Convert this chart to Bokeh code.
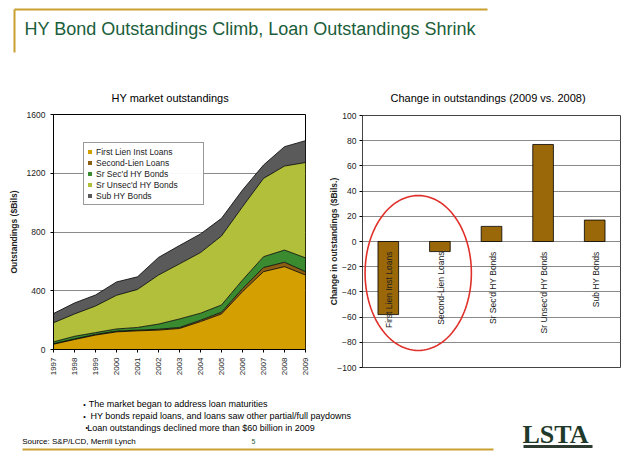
import numpy as np
from bokeh.plotting import figure
from bokeh.models import ColumnDataSource, Range1d, FixedTicker, Legend, LegendItem, Label
from bokeh.layouts import column, row
from bokeh.embed import file_html
from bokeh.resources import INLINE
from bokeh.core.properties import value

# ---------------- data ----------------
years = [1997, 1998, 1999, 2000, 2001, 2002, 2003, 2004, 2005, 2006, 2007, 2008, 2009]
first_lien = [36, 68, 98, 120, 127, 132, 143, 190, 242, 394, 530, 564, 507]
second_lien = [3, 4, 5, 5, 5, 6, 7, 9, 12, 20, 28, 30, 23]
sr_secd = [13, 18, 12, 15, 18, 35, 58, 48, 49, 59, 74, 83, 94]
sr_unsecd = [130, 152, 181, 229, 259, 334, 375, 413, 470, 499, 533, 572, 649]
sub_hy = [63, 75, 75, 91, 86, 120, 125, 127, 120, 114, 91, 132, 149]
series_names = ["First Lien Inst Loans", "Second-Lien Loans", "Sr Sec'd HY Bonds",
                "Sr Unsec'd HY Bonds", "Sub HY Bonds"]
y_ticks_left = [0, 400, 800, 1200, 1600]

change_categories = ["First Lien Inst Loans", "Second-Lien Loans", "Sr Sec'd HY Bonds",
                     "Sr Unsec'd HY Bonds", "Sub HY Bonds"]
change_values = [-58, -8, 12, 77, 17]
y_ticks_right = [-100, -80, -60, -40, -20, 0, 20, 40, 60, 80, 100]

title_text = "HY Bond Outstandings Climb, Loan Outstandings Shrink"
bullets = ["The market began to address loan maturities",
           "HY bonds repaid loans, and loans saw other partial/full paydowns",
           "Loan outstandings declined more than $60 billion in 2009"]
source_text = "Source: S&P/LCD, Merrill Lynch"
page_number = "5"

# ---------------- style ----------------
SANS = "Liberation Sans"
GOLD = "#C9A030"
GREEN = "#1B5E3B"
AREA_COLORS = ["#D49F00", "#8C5E14", "#3A8A30", "#B2BF3A", "#5A5A5A"]
BAR_COLOR = "#9A6808"
GRID = "#8A8A8A"
TXT = "#222222"


def canvas(w, h):
    f = figure(width=w, height=h, x_range=Range1d(0, w), y_range=Range1d(h, 0),
               x_axis_type=None, y_axis_type=None, output_backend="svg",
               toolbar_location=None, min_border=0)
    f.outline_line_color = None
    f.background_fill_color = "white"
    f.border_fill_color = "white"
    return f


# ---------------- header ----------------
header = canvas(637, 78)
header.segment(x0=[14, 14], y0=[9, 9], x1=[487, 14], y1=[9, 52], line_color=GOLD, line_width=2)
header.add_layout(Label(x=24, y=28.7, text=title_text, text_font=SANS, text_font_size="18px",
                        text_color=GREEN, text_baseline="middle"))

# ---------------- left chart ----------------
left = figure(width=322, height=307, x_range=Range1d(years[0], years[-1]), y_range=Range1d(0, 1600),
              output_backend="svg", toolbar_location=None, frame_align=False,
              min_border_left=53, min_border_right=17, min_border_top=36, min_border_bottom=36,
              title="HY market outstandings")
left.title.text_font = SANS
left.title.text_font_size = "11px"
left.title.text_font_style = "normal"
left.title.align = "left"
left.title.offset = 58
left.title.standoff = 21
left.title.text_color = "black"

src = ColumnDataSource(dict(year=years, fl=first_lien, sl=second_lien, ss=sr_secd,
                            su=sr_unsecd, sub=sub_hy))
keys = ["fl", "sl", "ss", "su", "sub"]
areas = left.varea_stack(keys, x="year", color=AREA_COLORS, source=src)
left.vline_stack(keys, x="year", source=src, color="black", line_width=0.8)

legend = Legend(items=[LegendItem(label=n, renderers=[r]) for n, r in zip(series_names, areas)],
                location=(30, 144), padding=3, spacing=0, label_height=11, glyph_width=5,
                glyph_height=5, label_standoff=4, label_width=104, label_text_font=SANS,
                label_text_font_size="8.5px", label_text_color=TXT,
                border_line_color="#333333", border_line_width=0.8, margin=0)
left.add_layout(legend)

left.yaxis.ticker = FixedTicker(ticks=y_ticks_left)
left.xaxis.ticker = FixedTicker(ticks=years)
left.ygrid.ticker = FixedTicker(ticks=y_ticks_left)
left.xaxis.major_label_orientation = np.pi / 2
left.xgrid.visible = False
left.ygrid.grid_line_color = GRID
left.yaxis.axis_label = "Outstandings ($Bils)"
left.yaxis.axis_label_text_font = SANS
left.yaxis.axis_label_text_font_size = "8.5px"
left.yaxis.axis_label_text_font_style = "bold"
left.yaxis.axis_label_text_color = TXT
left.yaxis.axis_label_standoff = 5
left.axis.major_label_text_font = SANS
left.yaxis.major_label_text_font_size = "8.5px"
left.xaxis.major_label_text_font_size = "8px"
left.axis.major_label_text_color = TXT
left.axis.minor_tick_line_color = None
left.axis.major_tick_in = 0
left.axis.major_tick_out = 3
left.axis.major_label_standoff = 5
left.axis.axis_line_color = "black"
left.outline_line_color = "black"

# ---------------- right chart ----------------
pos = np.arange(len(change_categories)) + 0.5
right = figure(width=315, height=307, x_range=Range1d(0, len(change_categories)),
               y_range=Range1d(y_ticks_right[0], y_ticks_right[-1]),
               output_backend="svg", toolbar_location=None, frame_align=False,
               min_border_left=40, min_border_right=17, min_border_top=37, min_border_bottom=18,
               title="Change in outstandings (2009 vs. 2008)")
right.title.text_font = SANS
right.title.text_font_size = "11px"
right.title.text_font_style = "normal"
right.title.align = "left"
right.title.offset = 28
right.title.standoff = 23
right.title.text_color = "black"

rsrc = ColumnDataSource(dict(x=pos, top=change_values, cat=change_categories,
                             base=np.zeros(len(pos))))
right.vbar(x="x", top="top", width=0.4, source=rsrc, fill_color=BAR_COLOR, line_color="black",
           line_width=0.8)
right.text(x="x", y="base", text="cat", source=rsrc, angle=np.pi / 2, text_align="right",
           text_baseline="middle", y_offset=10, x_offset=1, text_font=value(SANS),
           text_font_size="8.5px", text_color=TXT)

# highlight (hand-drawn style oval) around the two loan categories
hl_cx = pos[:2].mean() + 0.08
hl_cy = -25
hl_rx, hl_ry = 1.03, 61.5
t = np.linspace(0, 2 * np.pi, 121)
right.line(x=hl_cx + hl_rx * np.cos(t), y=hl_cy + hl_ry * np.sin(t),
           line_color="#E0302A", line_width=1.6)

right.xaxis.visible = False
right.xgrid.visible = False
right.yaxis.ticker = FixedTicker(ticks=y_ticks_right)
right.ygrid.ticker = FixedTicker(ticks=y_ticks_right)
right.ygrid.grid_line_color = GRID
right.yaxis.axis_label = "Change in outstandings ($Bils.)"
right.yaxis.axis_label_text_font = SANS
right.yaxis.axis_label_text_font_size = "8.5px"
right.yaxis.axis_label_text_font_style = "bold"
right.yaxis.axis_label_text_color = TXT
right.yaxis.axis_label_standoff = -5
right.yaxis.major_label_text_font = SANS
right.yaxis.major_label_text_font_size = "8.5px"
right.yaxis.major_label_text_color = TXT
right.yaxis.minor_tick_line_color = None
right.yaxis.major_tick_in = 0
right.yaxis.major_tick_out = 3
right.yaxis.major_label_standoff = 3
right.yaxis.axis_line_color = "#444444"
right.outline_line_color = "#444444"

# ---------------- footer ----------------
footer = canvas(637, 81)
bullet_x = [82.7, 82.7, 85]
text_x = [88.3, 90, 86.7]
line_y = [18.5, 30.5, 42]
for bx, tx, ly, tt in zip(bullet_x, text_x, line_y, bullets):
    footer.add_layout(Label(x=bx, y=ly, text="\u2022", text_font=SANS, text_font_size="7px",
                            text_color="black", text_baseline="middle"))
    footer.add_layout(Label(x=tx, y=ly, text=tt, text_font=SANS, text_font_size="9px",
                            text_color="black", text_baseline="middle"))
footer.add_layout(Label(x=21.7, y=56, text=source_text, text_font=SANS, text_font_size="8px",
                        text_color="black", text_baseline="middle"))
footer.add_layout(Label(x=253, y=56, text=page_number, text_font=SANS, text_font_size="7px",
                        text_color=GREEN, text_baseline="middle", text_align="center"))
footer.segment(x0=[22], y0=[64], x1=[493], y1=[64], line_color=GOLD, line_width=2)
# LSTA logo
footer.add_layout(Label(x=522, y=48.5, text="LSTA", text_font="Liberation Serif", text_font_size="26px",
                        text_font_style="bold", text_color="#1F3A2B", text_baseline="middle"))
footer.segment(x0=[523], y0=[61], x1=[592], y1=[61], line_color="#2C3A30", line_width=3)

page = column(header, row(left, right), footer)
open("out.html", "w").write(file_html(page, INLINE))
